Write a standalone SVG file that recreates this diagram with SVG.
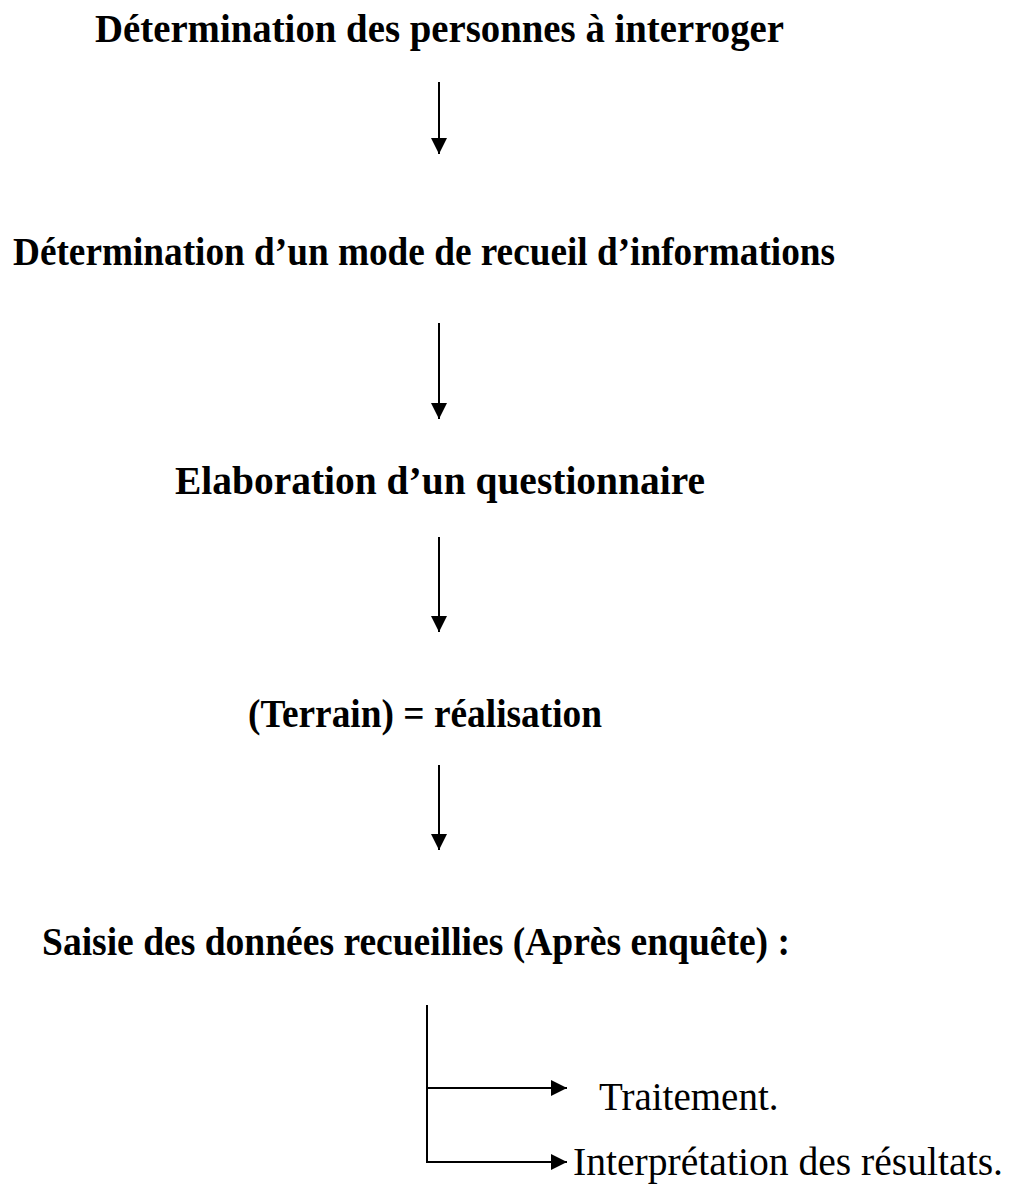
<svg xmlns="http://www.w3.org/2000/svg" width="1016" height="1187" viewBox="0 0 1016 1187">
<defs>
<marker id="ah" markerUnits="userSpaceOnUse" markerWidth="16" markerHeight="16" viewBox="0 0 16 16" refX="16" refY="8" orient="auto">
<path d="M0,0 L16,8 L0,16 Z" fill="#000"/>
</marker>
</defs>
<style>
.b{font-family:"Liberation Serif","Times New Roman",serif;font-weight:bold;font-size:40px;fill:#000}
.r{font-family:"Liberation Serif","Times New Roman",serif;font-size:39px;fill:#000}
.c{stroke:#000;stroke-width:2;fill:none}
</style>
<rect width="1016" height="1187" fill="#fff"/>
<g id="n1"><text class="b" x="95" y="42" textLength="689" lengthAdjust="spacingAndGlyphs">Détermination des personnes à interroger</text></g>
<g id="n2"><text class="b" x="13" y="265" textLength="822" lengthAdjust="spacingAndGlyphs">Détermination d’un mode de recueil d’informations</text></g>
<g id="n3"><text class="b" x="175" y="494" textLength="530" lengthAdjust="spacingAndGlyphs">Elaboration d’un questionnaire</text></g>
<g id="n4"><text class="b" x="248" y="727" textLength="354" lengthAdjust="spacingAndGlyphs">(Terrain) = réalisation</text></g>
<g id="n5"><text class="b" x="42" y="955" textLength="748" lengthAdjust="spacingAndGlyphs">Saisie des données recueillies (Après enquête) :</text></g>
<g id="n6"><text class="r" x="599" y="1110">Traitement.</text></g>
<g id="n7"><text class="r" x="573" y="1175" textLength="430" lengthAdjust="spacingAndGlyphs">Interprétation des résultats.</text></g>
<g id="connectors">
<line class="c" x1="439" y1="82" x2="439" y2="154" marker-end="url(#ah)"/>
<line class="c" x1="439" y1="323" x2="439" y2="419" marker-end="url(#ah)"/>
<line class="c" x1="439" y1="537" x2="439" y2="632" marker-end="url(#ah)"/>
<line class="c" x1="439" y1="765" x2="439" y2="850" marker-end="url(#ah)"/>
<polyline class="c" points="427,1005 427,1162 567,1162" marker-end="url(#ah)"/>
<line class="c" x1="427" y1="1088" x2="567" y2="1088" marker-end="url(#ah)"/>
</g>
</svg>
